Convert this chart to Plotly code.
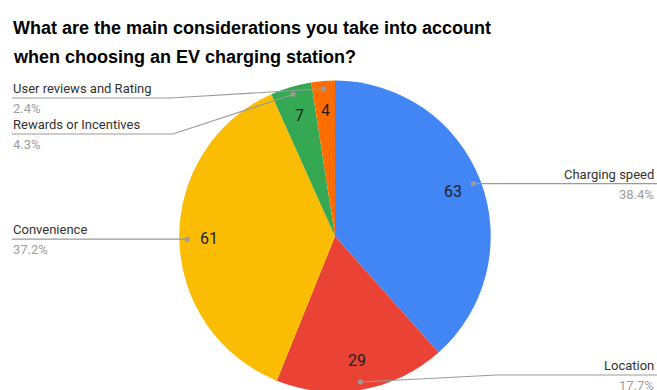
import math
import plotly.graph_objects as go

# ---- data ----
categories = ["Charging speed", "Location", "Convenience", "Rewards or Incentives", "User reviews and Rating"]
values = [63, 29, 61, 7, 4]
colors = ["#4285F4", "#EA4335", "#FBBC04", "#34A853", "#FF6D01"]
title_lines = ["What are the main considerations you take into account",
               "when choosing an EV charging station?"]

W, H = 657, 392  # figure slightly taller than the window; bottom is clipped like the reference
R = 155.7
CX = 335.0
CY = H - R  # pie centre in px from top (domain y starts at 0)

fig = go.Figure(go.Pie(
    labels=categories, values=values, sort=False, direction="clockwise", rotation=0,
    marker=dict(colors=colors, line=dict(width=0)),
    textinfo="none", hoverinfo="label+value+percent", showlegend=False,
    domain=dict(x=[(CX - R) / W, (CX + R) / W], y=[0, 2 * R / H]),
))

def px2p(x, y):
    return x / W, 1 - y / H

total = sum(values)
cum = 0
mids = []
for v in values:
    mids.append(math.radians((cum + v / 2) / total * 360))
    cum += v

shapes = []
annotations = []

layout_side = ["right", "right", "left", "left", "left"]
bend = [None, (497, 375), None, (173, 134), (170, 98)]

for i, (cat, v) in enumerate(zip(categories, values)):
    th = mids[i]
    dx, dy = CX + 0.95 * R * math.sin(th), CY - 0.95 * R * math.cos(th)
    tx, ty = CX + 0.81 * R * math.sin(th), CY - 0.81 * R * math.cos(th)
    ax, ay = px2p(tx, ty)
    annotations.append(dict(x=ax, y=ay, xref="paper", yref="paper", text=str(v), showarrow=False,
                            xanchor="center", yanchor="middle",
                            font=dict(family="Roboto, Arial", size=16, color="#222222")))
    if bend[i] is None:
        bx, by = dx, dy
    else:
        bx, by = bend[i]
    ex = W if layout_side[i] == "right" else 12
    p0 = px2p(dx, dy); p1 = px2p(bx, by); p2 = px2p(ex, by)
    shapes.append(dict(type="path", xref="paper", yref="paper",
                       path=f"M {p0[0]} {p0[1]} L {p1[0]} {p1[1]} L {p2[0]} {p2[1]}",
                       line=dict(color="#9a9a9a", width=1.1)))
    c0 = px2p(dx - 2.5, dy + 2.5); c1 = px2p(dx + 2.5, dy - 2.5)
    shapes.append(dict(type="circle", xref="paper", yref="paper", x0=c0[0], y0=c0[1], x1=c1[0], y1=c1[1],
                       fillcolor="#9a9a9a", line=dict(width=0)))
    lx = (W - 2) if layout_side[i] == "right" else 12
    anchor = "right" if layout_side[i] == "right" else "left"
    la = px2p(lx, by - 1)
    annotations.append(dict(x=la[0], y=la[1], xref="paper", yref="paper", text=cat, showarrow=False,
                            xanchor=anchor, yanchor="bottom", borderpad=0,
                            font=dict(family="Roboto, Arial", size=13, color="#333333")))
    pa = px2p(lx, by + 2)
    annotations.append(dict(x=pa[0], y=pa[1], xref="paper", yref="paper",
                            text=f"{v / total * 100:.1f}%", showarrow=False,
                            xanchor=anchor, yanchor="top", borderpad=0,
                            font=dict(family="Roboto, Arial", size=13, color="#9e9e9e")))

# title, one annotation per line
for line_text, top_px in zip(title_lines, [16.5, 45.5]):
    tt = px2p(12, top_px)
    annotations.append(dict(x=tt[0], y=tt[1], xref="paper", yref="paper", text=line_text, showarrow=False,
                            xanchor="left", yanchor="top", align="left", borderpad=0,
                            font=dict(family="Liberation Sans, Arial", size=18, weight="bold",
                                      color="#000000")))

fig.update_layout(width=W, height=H, margin=dict(l=0, r=0, t=0, b=0),
                  paper_bgcolor="white", plot_bgcolor="white",
                  shapes=shapes, annotations=annotations)

fig.write_html("out.html", config={"displayModeBar": False},
               post_script="document.body.style.margin='0';document.body.style.overflow='hidden';")
